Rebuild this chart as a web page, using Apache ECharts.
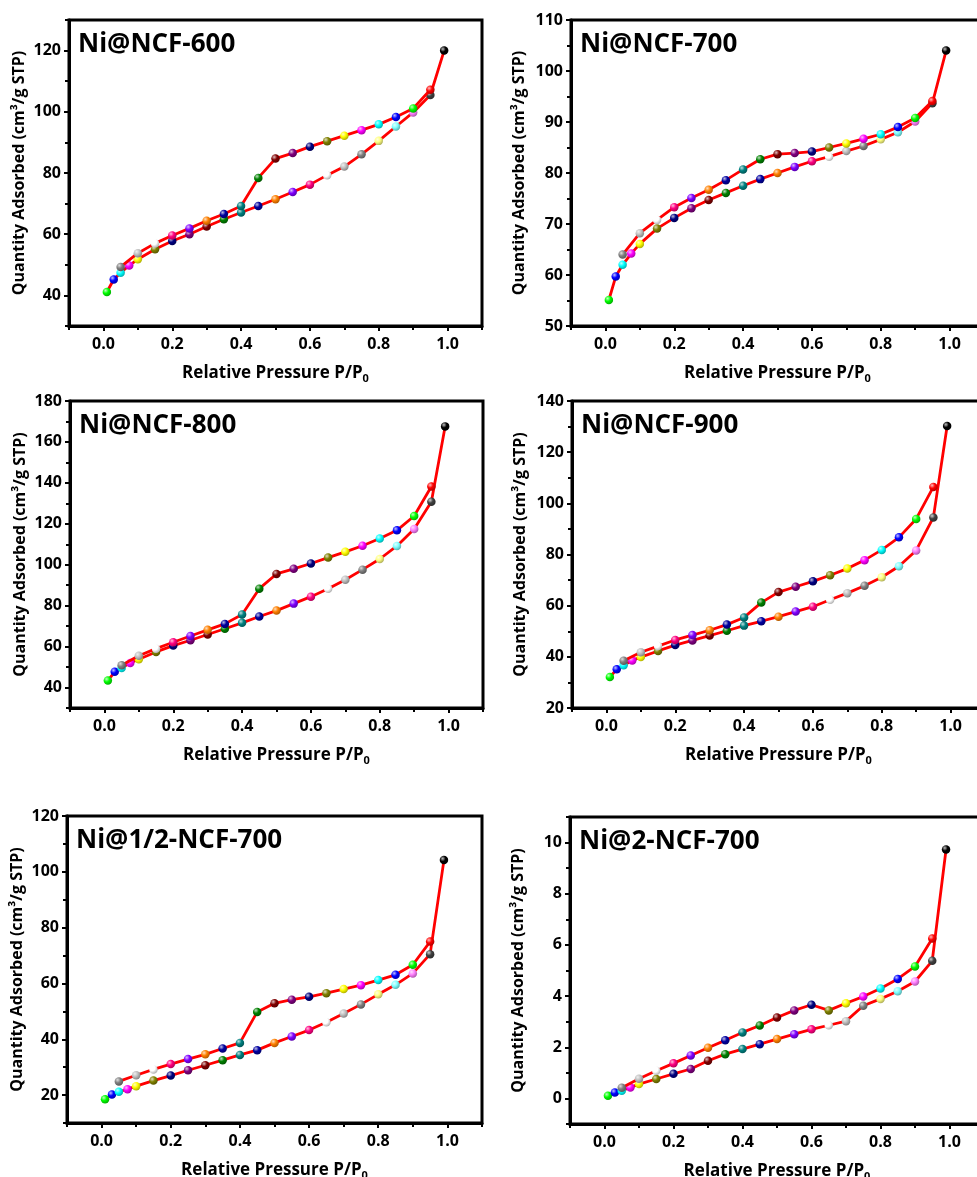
<!DOCTYPE html>
<html>
<head>
<meta charset="utf-8">
<script src="https://cdn.jsdelivr.net/npm/echarts@6/dist/echarts.min.js"></script>
<style>
html,body{margin:0;padding:0;background:#fff;}
#c{width:977px;height:1177px;}
</style>
</head>
<body>
<div id="c"></div>
<script>
// Relative pressures
const pAds = [0.01,0.03,0.05,0.075,0.1,0.15,0.2,0.25,0.3,0.35,0.4,0.45,0.5,0.55,0.6,0.65,0.7,0.75,0.8,0.85,0.9,0.95,0.99];
const pDes = [0.95,0.9,0.85,0.8,0.75,0.7,0.65,0.6,0.55,0.5,0.45,0.4,0.35,0.3,0.25,0.2,0.15,0.1,0.05];

// Ni@NCF-600
const ads600 = [41.1,45.2,47.4,49.8,51.8,55.1,57.8,60.0,62.5,64.9,67.1,69.2,71.4,73.8,76.2,79.3,82.1,86.1,90.5,95.2,99.8,105.5,120.0];
const des600 = [107.2,101.1,98.3,95.9,94.0,92.2,90.4,88.6,86.5,84.7,78.4,69.2,66.6,64.4,61.9,59.6,57.0,53.8,49.3];
// Ni@NCF-700
const ads700 = [55.1,59.7,62.0,64.2,66.1,69.1,71.2,73.1,74.7,76.1,77.5,78.8,80.0,81.2,82.3,83.2,84.3,85.3,86.6,88.0,90.1,93.7,104.0];
const des700 = [94.1,90.8,89.0,87.6,86.7,85.8,85.0,84.2,83.9,83.7,82.7,80.7,78.6,76.7,75.1,73.3,70.8,68.2,64.0];
// Ni@NCF-800
const ads800 = [43.4,47.7,49.6,52.0,53.8,57.4,60.5,63.1,65.9,68.7,71.6,74.7,77.6,81.0,84.4,88.3,92.7,97.6,102.8,109.2,117.5,130.8,167.6];
const des800 = [138.2,123.8,116.8,112.8,109.3,106.3,103.5,100.6,98.0,95.5,88.3,75.7,71.1,68.2,65.2,62.1,59.0,55.5,50.9];
// Ni@NCF-900
const ads900 = [32.1,35.1,36.7,38.6,39.9,42.3,44.6,46.4,48.3,50.2,52.2,53.9,55.7,57.7,59.6,62.3,64.9,67.8,71.1,75.4,81.6,94.5,130.2];
const des900 = [106.4,93.9,86.7,81.8,77.8,74.5,71.9,69.5,67.4,65.3,61.2,55.4,52.6,50.4,48.5,46.6,44.2,41.8,38.5];
// Ni@1/2-NCF-700
const adsHalf = [18.5,20.2,21.2,22.1,23.2,25.2,27.0,28.9,30.7,32.5,34.4,36.1,38.7,41.0,43.3,46.1,49.2,52.5,56.1,59.5,63.6,70.5,104.2];
const desHalf = [75.0,66.7,63.1,61.2,59.4,58.0,56.5,55.2,54.2,52.9,49.8,38.7,36.7,34.6,32.9,31.1,29.2,27.1,24.9];
// Ni@2-NCF-700
const adsTwo = [0.10,0.23,0.30,0.43,0.56,0.76,0.96,1.15,1.47,1.73,1.93,2.12,2.32,2.51,2.70,2.86,3.02,3.62,3.89,4.19,4.57,5.38,9.73];
const desTwo = [6.25,5.16,4.67,4.30,3.98,3.72,3.44,3.66,3.44,3.16,2.85,2.58,2.27,1.98,1.68,1.37,1.08,0.77,0.42];

const titles = ['Ni@NCF-600','Ni@NCF-700','Ni@NCF-800','Ni@NCF-900','Ni@1/2-NCF-700','Ni@2-NCF-700'];
const xMajor = [0,0.2,0.4,0.6,0.8,1.0];
const xMinor = [-0.1,0.1,0.3,0.5,0.7,0.9,1.1];
const yRange = [[30,130],[50,110],[30,180],[20,140],[10,120],[-1,11]];
const yMajor = [[40,60,80,100,120],[50,60,70,80,90,100,110],[40,60,80,100,120,140,160,180],[20,40,60,80,100,120,140],[20,40,60,80,100,120],[0,2,4,6,8,10]];
const yMinor = [[30,50,70,90,110,130],[55,65,75,85,95,105],[30,50,70,90,110,130,150,170],[30,50,70,90,110,130],[10,30,50,70,90,110],[-1,1,3,5,7,9,11]];

const adsSets = [ads600,ads700,ads800,ads900,adsHalf,adsTwo];
const desSets = [des600,des700,des800,des900,desHalf,desTwo];

// Origin default colour increment list
const PAL = ['#000000','#FF0000','#00FF00','#0000FF','#00FFFF','#FF00FF','#FFFF00','#808000','#000080','#800080','#800000','#008000','#008080','#0000A0','#FF8000','#8000FF','#FF0080','#FFFFFF','#C0C0C0','#808080','#FFFF80','#80FFFF','#FF80FF','#404040'];

// layout (left, top, width, height)
const grids = [[69,20,413,306],[571,20,413,306],[70,401,413,307],[572,401,413,307],[67,816,415,307],[570,817,414,307]];

const FONT = 'Open Sans';

function mix(hex, t, target){
  const n = parseInt(hex.slice(1),16);
  let r=(n>>16)&255, g=(n>>8)&255, b=n&255;
  r = Math.round(r+(target-r)*t); g = Math.round(g+(target-g)*t); b = Math.round(b+(target-b)*t);
  return 'rgb('+r+','+g+','+b+')';
}
function ball(c){
  return new echarts.graphic.RadialGradient(0.35,0.32,0.75,[
    {offset:0,color:mix(c,0.75,255)},
    {offset:0.45,color:c},
    {offset:1,color:mix(c,0.35,0)}
  ]);
}

const option = {
  animation:false,
  backgroundColor:'#fff',
  title:[], grid:[], xAxis:[], yAxis:[], series:[]
};

for (let k=0;k<6;k++){
  const g = grids[k];
  option.grid.push({left:g[0],top:g[1],width:g[2],height:g[3],show:true,borderColor:'#000',borderWidth:3,backgroundColor:'transparent',containLabel:false,outerBoundsMode:'none'});
  option.title.push({text:titles[k],left:g[0]+4,top:g[1]+7,textStyle:{fontFamily:FONT,fontWeight:'bold',fontSize:26,color:'#000'}});
  const xa = 2*k, ya = 2*k;
  option.xAxis.push({
    type:'value',gridIndex:k,min:-0.1,max:1.1,position:'bottom',
    axisLine:{show:true,onZero:false,lineStyle:{color:'#000',width:3}},
    axisTick:{show:true,customValues:xMajor,length:5,lineStyle:{color:'#000',width:2}},
    axisLabel:{show:true,customValues:xMajor,margin:10,formatter:v=>v.toFixed(1),fontFamily:FONT,fontWeight:'bold',fontSize:16,color:'#000'},
    splitLine:{show:false},
    name:'Relative Pressure P/P{s|0}',nameLocation:'middle',nameGap:37,
    nameTextStyle:{fontFamily:FONT,fontWeight:'bold',fontSize:17,color:'#000',rich:{s:{fontFamily:FONT,fontWeight:'bold',fontSize:11,color:'#000',padding:[10,0,0,0]}}}
  });
  option.xAxis.push({
    type:'value',gridIndex:k,min:-0.1,max:1.1,position:'bottom',
    axisLine:{show:false,onZero:false},
    axisTick:{show:true,customValues:xMinor,length:4,lineStyle:{color:'#000',width:2}},
    axisLabel:{show:false},splitLine:{show:false}
  });
  option.yAxis.push({
    type:'value',gridIndex:k,min:yRange[k][0],max:yRange[k][1],position:'left',
    axisLine:{show:true,onZero:false,lineStyle:{color:'#000',width:3}},
    axisTick:{show:true,customValues:yMajor[k],length:5,lineStyle:{color:'#000',width:2}},
    axisLabel:{show:true,customValues:yMajor[k],margin:8,fontFamily:FONT,fontWeight:'bold',fontSize:16,color:'#000'},
    splitLine:{show:false},
    name:'Quantity Adsorbed (cm\u00B3/g STP)',nameLocation:'middle',nameGap:k%2===0?42:44,
    nameTextStyle:{fontFamily:FONT,fontWeight:'bold',fontSize:16,color:'#000'}
  });
  option.yAxis.push({
    type:'value',gridIndex:k,min:yRange[k][0],max:yRange[k][1],position:'left',
    axisLine:{show:false,onZero:false},
    axisTick:{show:true,customValues:yMinor[k],length:4,lineStyle:{color:'#000',width:2}},
    axisLabel:{show:false},splitLine:{show:false}
  });
  const ads = adsSets[k], des = desSets[k];
  option.series.push({
    type:'line',xAxisIndex:xa,yAxisIndex:ya,symbol:'circle',symbolSize:8.5,
    lineStyle:{color:'#FF0000',width:2.8},
    data:pAds.map((p,i)=>({value:[p,ads[i]],itemStyle:{color:ball(PAL[(2+i)%24])}})),
    z:3
  });
  option.series.push({
    type:'line',xAxisIndex:xa,yAxisIndex:ya,symbol:'circle',symbolSize:8.5,
    lineStyle:{color:'#FF0000',width:2.8},
    data:pDes.map((p,i)=>({value:[p,des[i]],itemStyle:{color:ball(PAL[(1+i)%24])}})),
    z:4
  });
}

const chart = echarts.init(document.getElementById('c'),null,{renderer:'canvas'});
chart.setOption(option);
</script>
</body>
</html>
